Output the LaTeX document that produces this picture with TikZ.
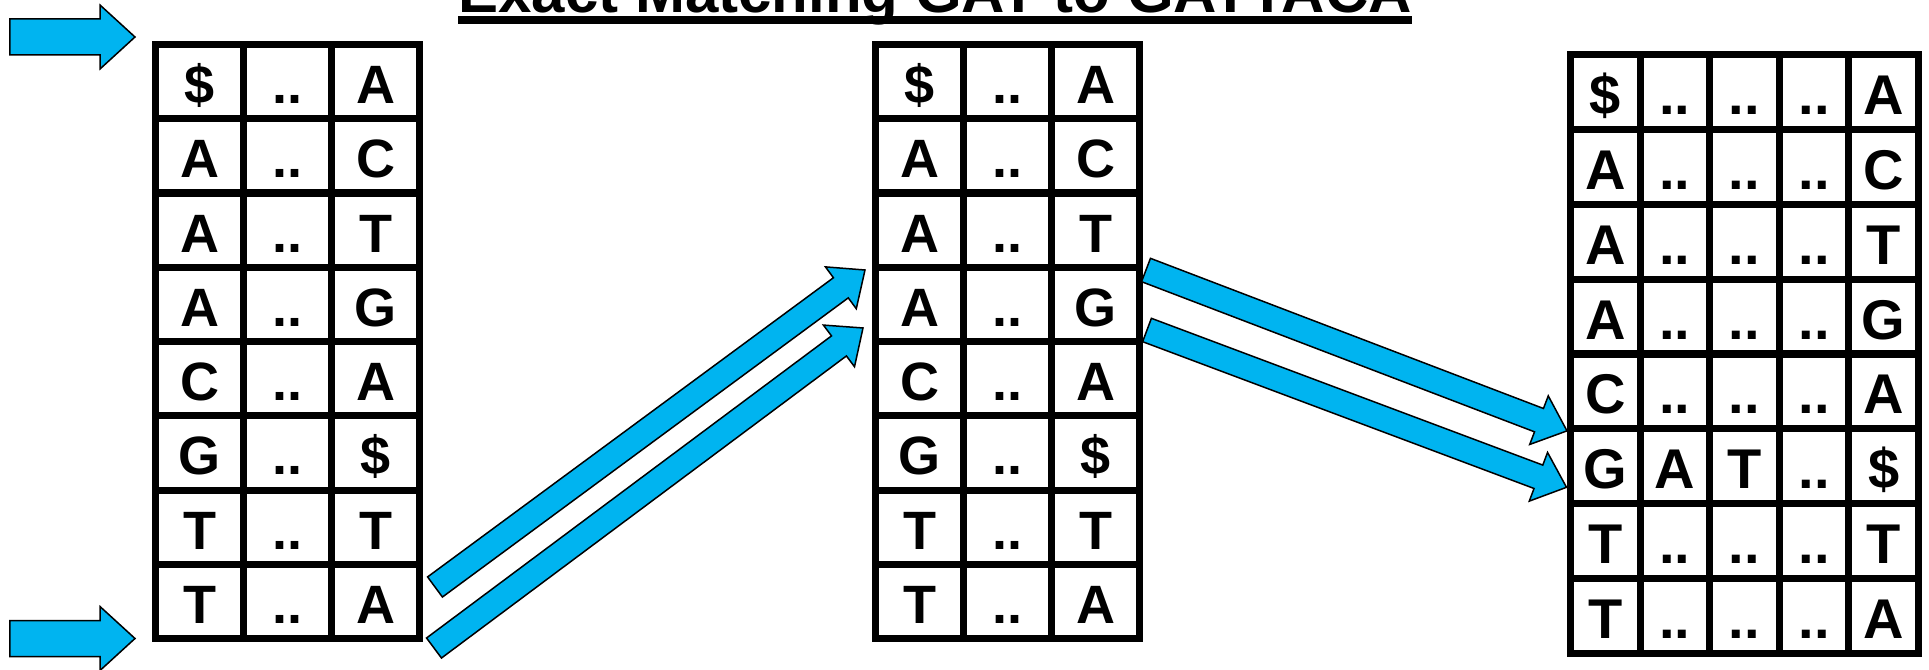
\documentclass[tikz,border=0pt]{standalone}
\usepackage{fontspec}
\setmainfont{Liberation Sans}
\usepackage{xcolor}
\definecolor{ptrblue}{RGB}{0,180,240}
\usetikzlibrary{calc,positioning}
\tikzset{
    cell/.style     = {rectangle, draw, line width=7bp, inner sep=0pt, outer sep=0pt,
                       minimum width=88bp, minimum height=74.25bp,
                       text height=44bp, text depth=0pt,
                       font=\fontsize{54bp}{60bp}\selectfont\bfseries},
    rcell/.style    = {cell, minimum width=69.6bp, minimum height=74.875bp,
                       text height=45bp, font=\fontsize{56bp}{62bp}\selectfont\bfseries},
    titletext/.style = {anchor=base, inner sep=0pt,
                       font=\fontsize{60bp}{70bp}\selectfont\bfseries},
    fatarrow/.style = {draw=black, line width=1.5bp, fill=ptrblue, line join=miter}
}
\newcommand{\dotcell}{..}
% block arrow: tail, tip, half shaft, half head, head length
\newcommand{\blockarrow}[5]{%
    \coordinate (hb) at ($(#2)!#5!(#1)$);
    \draw[fatarrow] ($(#1)!#3!90:(#2)$) -- ($(hb)!#3!90:(#2)$)
        -- ($(hb)!#4!90:(#2)$) -- (#2) -- ($(hb)!#4!-90:(#2)$)
        -- ($(hb)!#3!-90:(#2)$) -- ($(#1)!#3!-90:(#2)$) -- cycle;
}

\begin{document}
\begin{tikzpicture}[x=1bp, y=-1bp]
\useasboundingbox (0,0) rectangle (1929,670);

% --- Title ---
\node[titletext] (title) at (935,13) {Exact Matching GAT to GATTACA};
\draw[line width=8bp] ($(title.base west)+(0,7)$) -- ($(title.base east)+(0,7)$);

% --- First table ---
\foreach \first/\last [count=\r] in
   {\$/A, A/C, A/T, A/G, C/A, G/\$, T/T, T/A} {
   \node[cell] (l-\r-1) at (199.5, {7.375+74.25*\r}) {\first};
   \node[cell] (l-\r-2) at (287.5, {7.375+74.25*\r}) {\dotcell};
   \node[cell] (l-\r-3) at (375.5, {7.375+74.25*\r}) {\last};
}

% --- Second table ---
\foreach \first/\last [count=\r] in
   {\$/A, A/C, A/T, A/G, C/A, G/\$, T/T, T/A} {
   \node[cell] (m-\r-1) at (919.5,  {7.375+74.25*\r}) {\first};
   \node[cell] (m-\r-2) at (1007.5, {7.375+74.25*\r}) {\dotcell};
   \node[cell] (m-\r-3) at (1095.5, {7.375+74.25*\r}) {\last};
}

% --- Third table ---
\foreach \ca/\cb/\cc/\ce [count=\r] in
   {\$/\dotcell/\dotcell/A, A/\dotcell/\dotcell/C, A/\dotcell/\dotcell/T,
    A/\dotcell/\dotcell/G, C/\dotcell/\dotcell/A, G/A/T/\$,
    T/\dotcell/\dotcell/T, T/\dotcell/\dotcell/A} {
   \node[rcell] (r-\r-1) at (1605.3, {17.06+74.875*\r}) {\ca};
   \node[rcell] (r-\r-2) at (1674.9, {17.06+74.875*\r}) {\cb};
   \node[rcell] (r-\r-3) at (1744.5, {17.06+74.875*\r}) {\cc};
   \node[rcell] (r-\r-4) at (1814.1, {17.06+74.875*\r}) {\dotcell};
   \node[rcell] (r-\r-5) at (1883.7, {17.06+74.875*\r}) {\ce};
}

% --- Range pointers on the first table ---
\coordinate (topTip) at ($(l-1-1.north west)+(-20.5,-7.5)$);
\coordinate (topTail) at ($(topTip)+(-125,0)$);
\coordinate (botTip) at ($(l-8-1.south west)+(-20.5,0)$);
\coordinate (botTail) at ($(botTip)+(-125,0)$);
\blockarrow{topTail}{topTip}{18bp}{32bp}{35bp}
\blockarrow{botTail}{botTip}{18bp}{32bp}{35bp}

% --- First -> second table ---
\coordinate (lmTailA) at ($(l-8-3.east)+(15.5,-14.4)$);
\coordinate (lmTipA)  at ($(m-4-1.north west)+(-10.5,2.75)$);
\coordinate (lmTailB) at ($(l-8-3.south east)+(14.5,9.5)$);
\coordinate (lmTipB)  at ($(m-4-1.west)+(-12.5,23.6)$);
\blockarrow{lmTailA}{lmTipA}{12.5bp}{26bp}{30bp}
\blockarrow{lmTailB}{lmTipB}{12.5bp}{26bp}{30bp}

% --- Second -> third table ---
\coordinate (mrTailA) at ($(m-4-3.north east)+(6.5,2.75)$);
\coordinate (mrTipA)  at ($(r-6-1.north west)+(-3.5,2)$);
\coordinate (mrTailB) at ($(m-4-3.south east)+(7.5,-11.5)$);
\coordinate (mrTipB)  at ($(r-6-1.west)+(-4,21)$);
\blockarrow{mrTailA}{mrTipA}{12.5bp}{26bp}{30bp}
\blockarrow{mrTailB}{mrTipB}{12.5bp}{26bp}{30bp}

\end{tikzpicture}
\end{document}
